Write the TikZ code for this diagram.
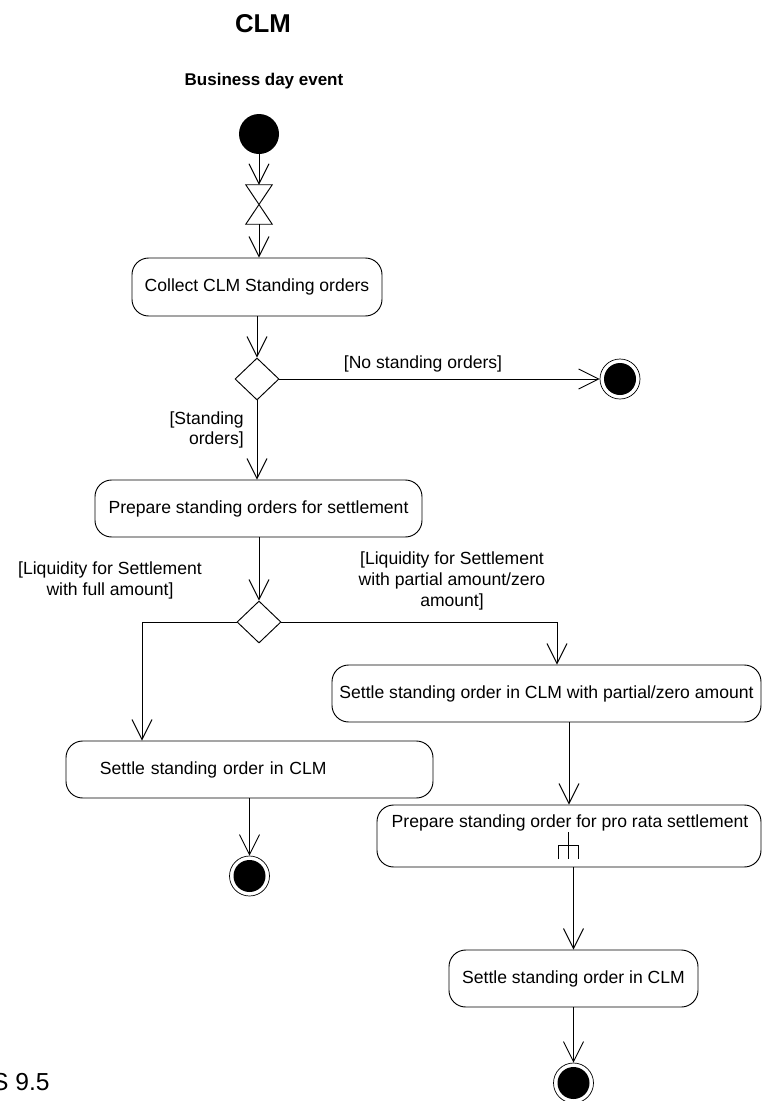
\documentclass[tikz,border=0pt]{standalone}
\usepackage{fontspec}
\setmainfont{Liberation Sans}
\usetikzlibrary{arrows.meta,positioning,shapes.geometric,calc}

\tikzset{
  actbox/.style={draw, rounded corners=5mm, line width=0.8pt, inner sep=0pt, align=center, font=\fontsize{15}{18}\selectfont},
  decision/.style={diamond, draw, line width=0.8pt, inner sep=0pt, minimum width=13.2mm, minimum height=12.6mm},
  initstate/.style={circle, fill=black, inner sep=0pt, minimum size=12mm},
  finalstate/.style={circle, draw, line width=0.6pt, inner sep=0pt, minimum size=12mm,
    path picture={\fill (path picture bounding box.center) circle (4.8mm);}},
  flow/.style={draw, line width=0.8pt, -{Straight Barb[length=6mm,width=6mm,line width=0.8pt]}},
  guard/.style={inner sep=0pt, font=\fontsize{15}{18}\selectfont}
}

\begin{document}
\begin{tikzpicture}[x=0.3mm, y=-0.3mm]
    \useasboundingbox (0,0) rectangle (761,1101);

    % heading
    \node[font=\bfseries\fontsize{22}{26}\selectfont] (title) at (263,24) {CLM};
    \node[font=\bfseries\fontsize{14.5}{17}\selectfont] (event) at (264,81) {Business day event};

    % start and time event
    \node[initstate] (start) at (259,134) {};
    \node[minimum width=7.8mm, minimum height=11.7mm, inner sep=0pt] (timer) at (259,204.5) {};
    \draw[line width=0.8pt] (timer.north west) -- (timer.north east) -- (timer.south west) -- (timer.south east) -- cycle;

    % activities
    \node[actbox, minimum width=75mm, minimum height=17.4mm] (collect) at (257,287) {Collect CLM Standing orders};
    \node[decision] (dec1) at (257,379) {};
    \node[finalstate] (endA) at (620,379) {};
    \node[actbox, minimum width=98.1mm, minimum height=17.1mm] (prep) at (258.5,508.5) {Prepare standing orders for settlement};
    \node[decision] (dec2) at (259,622) {};
    \node[actbox, align=left, text width=89.7mm, inner xsep=10.2mm, minimum height=17.1mm] (settleA) at (249.5,769.5) {Settle standing order in CLM};
    \node[finalstate] (endB) at (249.5,876) {};
    \node[actbox, minimum width=128.7mm, minimum height=17.1mm] (settleB) at (546.5,693.5) {Settle standing order in CLM with partial/zero amount};
    \node[actbox, minimum width=115.2mm, minimum height=18.6mm] (prorata) at (569,836) {};
    \node[guard] (prorataText) at (570,823) {Prepare standing order for pro rata settlement};
    \draw[line width=0.6pt] (558,859) -- (558,845) -- (578,845) -- (578,859) (568,832) -- (568,859);
    \node[actbox, minimum width=74.7mm, minimum height=17.1mm] (settleC) at (573.5,978.5) {Settle standing order in CLM};
    \node[finalstate] (endC) at (573.5,1083) {};

    % guards
    \node[guard] (gNone) at (423,364) {[No standing orders]};
    \node[guard, anchor=east, align=right, font=\fontsize{15}{17}\selectfont] (gSO) at (244,430) {[Standing\\orders]};
    \node[guard, align=center] (gFull) at (110,580) {[Liquidity for Settlement\\with full amount]};
    \node[guard, align=center] (gPart) at (452,581) {[Liquidity for Settlement\\with partial amount/zero\\amount]};

    % flows
    \coordinate (splitA) at (142,622);
    \coordinate (splitB) at (557,622);
    \draw[flow] (start) -- (timer.north);
    \draw[flow] (timer.south) -- (timer.south |- collect.north);
    \draw[flow] (collect.south) -- (dec1.north);
    \draw[flow] (dec1.east) -- (endA);
    \draw[flow] (dec1.south) -- (dec1.south |- prep.north);
    \draw[flow] (prep.south -| dec2.north) -- (dec2.north);
    \draw[flow] (dec2.west) -- (splitA) -- (splitA |- settleA.north);
    \draw[flow] (dec2.east) -- (splitB) -- (splitB |- settleB.north);
    \draw[flow] (settleA) -- (endB);
    \draw[flow] (settleB.south -| prorata.north) -- (prorata.north);
    \draw[flow] (prorata.south -| settleC.north) -- (settleC.north);
    \draw[flow] (settleC) -- (endC);

    % page reference
    \node[anchor=base west, inner sep=0pt, font=\fontsize{21}{24}\selectfont] (pageref) at (-8,1090) {S 9.5};
\end{tikzpicture}
\end{document}
